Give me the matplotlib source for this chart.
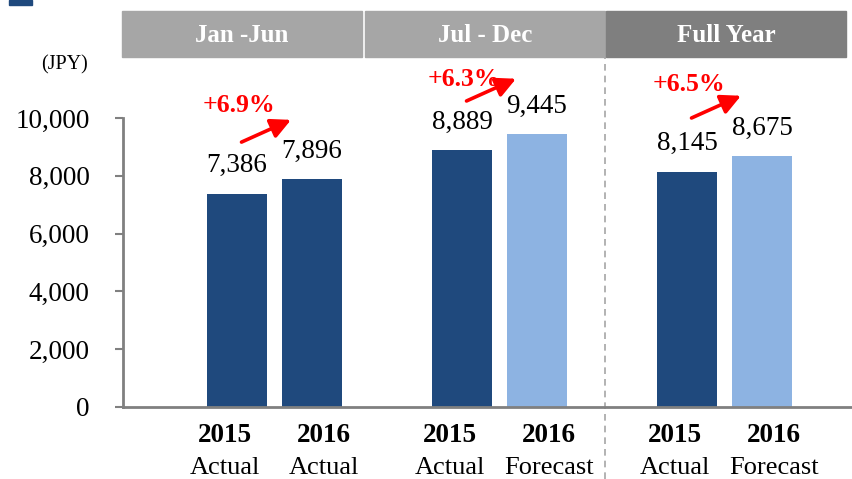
import matplotlib
matplotlib.use("Agg")
import matplotlib.pyplot as plt
from matplotlib.patches import Rectangle
import numpy as np

## data ##

periods = ["Jan -Jun", "Jul - Dec", "Full Year"]
years = ["2015", "2016", "2015", "2016", "2015", "2016"]
kinds = ["Actual", "Actual", "Actual", "Forecast", "Actual", "Forecast"]
values = [7386, 7896, 8889, 9445, 8145, 8675]
growth = ["+6.9%", "+6.3%", "+6.5%"]

NAVY = "#1F497D"
LIGHT = "#8DB3E2"
GREY = "#808080"
RED = "#FF0000"

plt.rcParams['font.family'] = ['Liberation Serif', 'DejaVu Serif']

## layout ##

W, H = 852, 479
fig = plt.figure(figsize=(W / 100, H / 100), dpi=100)

def fx(px):
    return px / W

def fy(py):
    return 1 - py / H

ax = fig.add_axes([fx(123), fy(407), fx(852) - fx(123), fy(118) - fy(407)])

# bar slots: two per period, one empty slot between periods
xpos = np.array([0, 1, 3, 4, 6, 7], dtype=float)
colors = [NAVY, NAVY, NAVY, LIGHT, NAVY, LIGHT]

ax.bar(xpos, values, width=0.79, color=colors, zorder=2)
ax.set_xlim(-1.52, 8.2)
ax.set_ylim(0, 10000)
ax.set_yticks(np.arange(0, 10001, 2000))
ax.yaxis.set_major_formatter(plt.FuncFormatter(lambda x, loc: "{:,}".format(int(x))))
ax.tick_params(axis='y', direction='out', length=6, width=1.5, color=GREY,
               labelsize=19.5, pad=18)
ax.set_xticks([])
for s in ['top', 'right']:
    ax.spines[s].set_visible(False)
for s in ['left', 'bottom']:
    ax.spines[s].set_color(GREY)
    ax.spines[s].set_linewidth(2)

# value labels
for x, v in zip(xpos, values):
    ax.annotate("{:,}".format(v), (x, v), xytext=(0, 20), textcoords='offset points',
                ha='center', va='center', fontsize=19.5, clip_on=False)

# bottom category labels (spread a bit wider than the bars)
xt = ax.get_xaxis_transform()
spread = [-0.16, 0.16] * 3
for x, dx, yr, k in zip(xpos, spread, years, kinds):
    ax.text(x + dx, -0.097, yr, transform=xt, ha='center', va='center',
            fontsize=19.5, fontweight='bold')
    ax.text(x + dx, -0.211, k, transform=xt, ha='center', va='center', fontsize=19)

# growth arrows + labels (per period, relative to the 2015 bar)
arrow_dy = [1780, 1700, 1855]
text_dy = [3050, 2450, 3000]
for i, g in enumerate(growth):
    x0 = xpos[2 * i]
    base = values[2 * i]
    ax.annotate("", xy=(x0 + 0.72, base + arrow_dy[i] + 770),
                xytext=(x0 + 0.06, base + arrow_dy[i]),
                arrowprops=dict(arrowstyle='-|>', color=RED, lw=2.6,
                                mutation_scale=30, shrinkA=0, shrinkB=0),
                annotation_clip=False)
    ax.text(x0 + 0.02, base + text_dy[i], g, color=RED, fontsize=18.5,
            fontweight='bold', ha='center', va='center', clip_on=False)

# dashed separator before full year
ax.axvline(4.9, ymin=-0.25, ymax=1.21, color='#A6A6A6', lw=1.2,
           linestyle=(0, (4, 3)), clip_on=False)

# header bands
hdr_x = [122, 365, 606]
hdr_w = 240
hdr_colors = ['#A6A6A6', '#A6A6A6', '#7F7F7F']
for px, name, c in zip(hdr_x, periods, hdr_colors):
    fig.patches.append(Rectangle((fx(px), fy(57)), hdr_w / W, (57 - 11) / H,
                                 transform=fig.transFigure, color=c, zorder=0))
    fig.text(fx(px + hdr_w / 2), fy(35), name, color='white', fontsize=18,
             fontweight='bold', ha='center', va='center')

# unit label and corner mark
fig.text(fx(64), fy(65), "(JPY)", fontsize=14.5, ha='center', va='center')
fig.patches.append(Rectangle((fx(9), fy(5)), 23 / W, 5 / H,
                             transform=fig.transFigure, color=NAVY))

fig.savefig("out.png", dpi=100)
